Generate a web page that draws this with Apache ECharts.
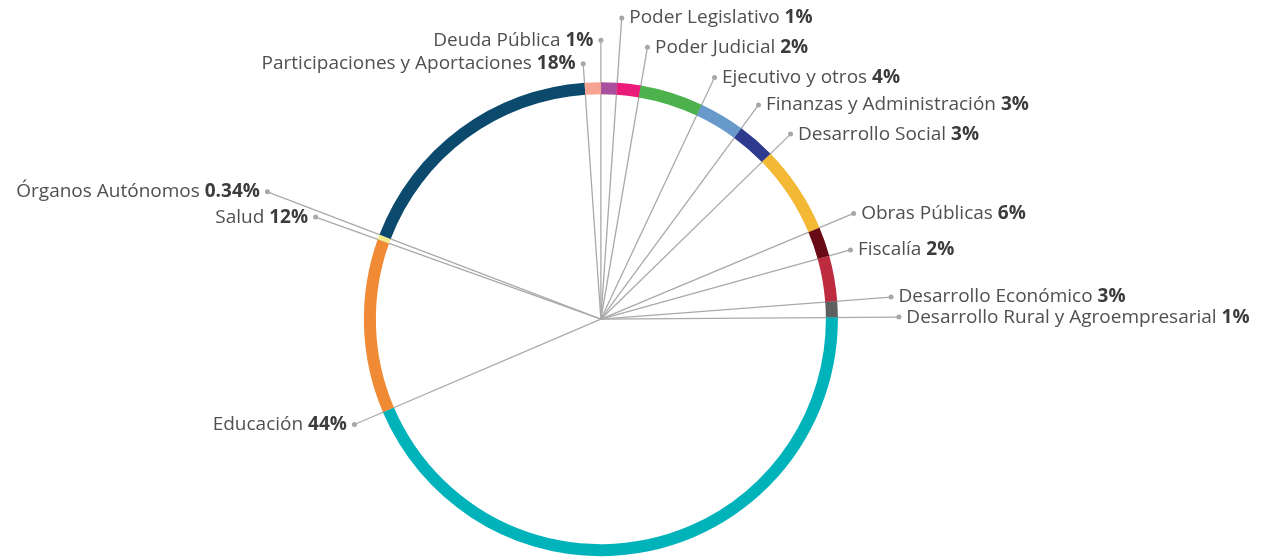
<!DOCTYPE html>
<html>
<head>
<meta charset="utf-8">
<script src="https://cdn.jsdelivr.net/npm/echarts@6/dist/echarts.min.js"></script>
<style>
html,body{margin:0;padding:0;background:#fff;}
#c{width:1265px;height:558px;}
</style>
</head>
<body>
<div id="c"></div>
<script>
// ---- data ----
const names = ['Poder Legislativo','Poder Judicial','Ejecutivo y otros','Finanzas y Administración','Desarrollo Social','Obras Públicas','Fiscalía','Desarrollo Económico','Desarrollo Rural y Agroempresarial','Educación','Salud','Órganos Autónomos','Participaciones y Aportaciones','Deuda Pública'];
const values = [1.1, 1.6, 4.3, 3.1, 2.6, 6.0, 2.0, 3.1, 1.1, 43.7, 11.9, 0.34, 18.1, 1.1];
const pctLabels = ['1%','2%','4%','3%','3%','6%','2%','3%','1%','44%','12%','0.34%','18%','1%'];
const colors = ['#A9519F','#EA1B79','#4DB24B','#6799CB','#2D3A8E','#F3B834','#680B16','#BD2B3F','#5E5F61','#00B3BB','#F08A34','#F4EC8C','#0B496D','#F6A391'];

// ---- layout (label distances from centre, px) ----
const labelRadius = [302, 276, 267, 266, 265, 274, 259, 291, 298, 268, 303, 357, 256, 279];
const CENTER = ['47.5%', '57.2%'];
const FONT = '"Open Sans", "Noto Sans", sans-serif';

const chart = echarts.init(document.getElementById('c'), null, {renderer: 'canvas'});
const total = values.reduce((a, b) => a + b, 0);
const cumEnd = [];
values.reduce((acc, v, i) => { cumEnd[i] = acc + v; return acc + v; }, 0);

function isRight(i) {
  const ang = 360 * cumEnd[i] / total;
  return ang < 180 - 1e-6 && ang > 0.5;
}

chart.setOption({
  backgroundColor: '#fff',
  animation: false,
  series: [{
    type: 'pie',
    center: CENTER,
    radius: [225, 237],
    startAngle: 90,
    clockwise: true,
    avoidLabelOverlap: false,
    emphasis: {disabled: true},
    data: names.map((n, i) => ({name: n, value: values[i], itemStyle: {color: colors[i]}})),
    label: {
      show: true,
      position: 'outside',
      overflow: 'none',
      fontFamily: FONT,
      formatter: p => {
        const i = p.dataIndex;
        return isRight(i)
          ? '{dot|}{sp|}{n|' + names[i] + ' }{b|' + pctLabels[i] + '}'
          : '{n|' + names[i] + ' }{b|' + pctLabels[i] + '}{sp|}{dot|}';
      },
      rich: {
        n: {fontSize: 19, color: '#505050', fontFamily: FONT},
        b: {fontSize: 19, color: '#3c3c3c', fontWeight: 'bold', fontFamily: FONT},
        dot: {width: 5, height: 5, borderRadius: 2.5, backgroundColor: '#a7a7a7'},
        sp: {width: 5}
      }
    },
    labelLine: {
      show: true,
      length: 10,
      length2: 10,
      lineStyle: {color: '#a9a9a9', width: 1.3}
    },
    labelLayout: params => {
      const i = params.dataIndex;
      const w = chart.getWidth(), h = chart.getHeight();
      const cx = parseFloat(CENTER[0]) / 100 * w;
      const cy = parseFloat(CENTER[1]) / 100 * h;
      const ang = 2 * Math.PI * cumEnd[i] / total;
      const r = labelRadius[i];
      const dx = cx + r * Math.sin(ang);
      const dy = cy - r * Math.cos(ang);
      const right = isRight(i);
      return {
        x: right ? dx - 2.5 : dx + 2.5,
        y: dy,
        align: right ? 'left' : 'right',
        verticalAlign: 'middle',
        labelLinePoints: [[cx, cy], [dx, dy], [dx, dy]]
      };
    }
  }]
});
</script>
</body>
</html>
